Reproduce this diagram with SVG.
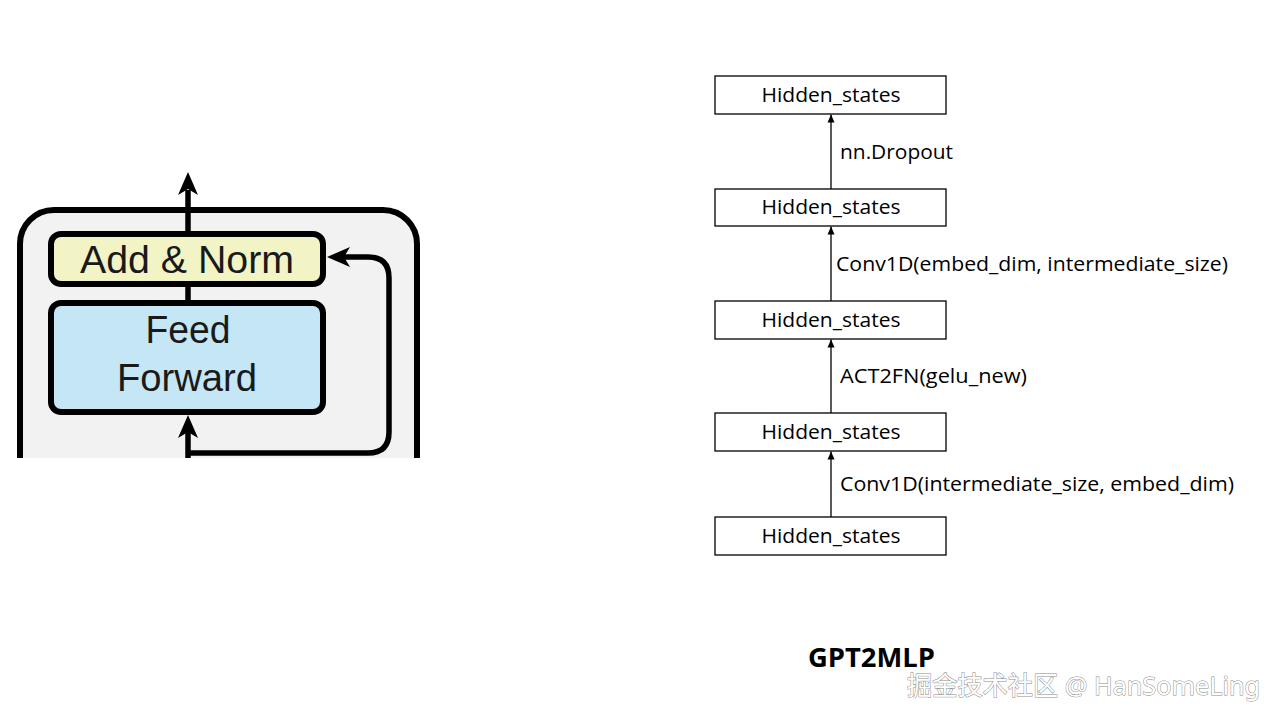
<svg xmlns="http://www.w3.org/2000/svg" width="1280" height="720" viewBox="0 0 1280 720">
<defs>
<style>
.box{fill:#ffffff;stroke:#000;stroke-width:1.3}
.bt{font-family:"Open Sans","Noto Sans",sans-serif;font-size:20.5px;fill:#000;text-anchor:middle}
.lbl{font-family:"Open Sans","Noto Sans",sans-serif;font-size:20.5px;fill:#000}
.conn{stroke:#000;stroke-width:1.3;fill:none;marker-end:url(#ah)}
.tf{font-family:"Liberation Sans",Arial,sans-serif;font-size:38px;fill:#1a1a1a;text-anchor:middle}
.thick{stroke:#000;stroke-width:5.5;fill:none}
.bigarrow{fill:#000}
</style>
<marker id="ah" markerUnits="userSpaceOnUse" markerWidth="10" markerHeight="10" refX="8" refY="4" orient="auto">
<path d="M0,0.5 L8,4 L0,7.5 Z" fill="#000"/>
</marker>
<clipPath id="cut"><rect x="0" y="0" width="1280" height="458"/></clipPath>
</defs>
<rect width="1280" height="720" fill="#ffffff"/>

<g id="transformer-ff" clip-path="url(#cut)">
<rect x="20" y="210" width="397" height="320" rx="34" ry="34" fill="#f2f2f2" stroke="#000" stroke-width="6"/>
<line class="thick" x1="188" y1="190" x2="188" y2="234"/>
<line class="thick" x1="188" y1="284" x2="188" y2="303"/>
<path class="bigarrow" d="M188,172 L198,195 L188,189 L178,195 Z"/>
<line class="thick" x1="188" y1="458" x2="188" y2="430"/>
<path class="bigarrow" d="M188,415 L198,438 L188,432 L178,438 Z"/>
<path class="thick" d="M188,453 H368 Q389,453 389,432 V278 Q389,257 368,257 H342"/>
<path class="bigarrow" d="M327,257 L350,247 L344,257 L350,267 Z"/>
<g id="add-norm">
<rect x="51" y="234" width="272" height="50" rx="10" ry="10" fill="#f3f4c6" stroke="#000" stroke-width="6"/>
<text class="tf" x="187" y="273" textLength="214" lengthAdjust="spacingAndGlyphs">Add &amp; Norm</text>
</g>
<g id="feed-forward">
<rect x="51" y="303" width="272" height="109" rx="10" ry="10" fill="#c5e6f5" stroke="#000" stroke-width="6"/>
<text class="tf" x="188" y="343" textLength="85" lengthAdjust="spacingAndGlyphs">Feed</text>
<text class="tf" x="187" y="391" textLength="140" lengthAdjust="spacingAndGlyphs">Forward</text>
</g>
</g>

<g id="connectors">
<line class="conn" x1="831" y1="189" x2="831" y2="114.5"/>
<line class="conn" x1="831" y1="301" x2="831" y2="226.5"/>
<line class="conn" x1="831" y1="413" x2="831" y2="339.5"/>
<line class="conn" x1="831" y1="517" x2="831" y2="451.5"/>
<text class="lbl" x="840" y="159" textLength="113" lengthAdjust="spacingAndGlyphs">nn.Dropout</text>
<text class="lbl" x="836" y="271" textLength="392" lengthAdjust="spacingAndGlyphs">Conv1D(embed_dim, intermediate_size)</text>
<text class="lbl" x="840" y="383" textLength="187" lengthAdjust="spacingAndGlyphs">ACT2FN(gelu_new)</text>
<text class="lbl" x="840" y="491" textLength="394" lengthAdjust="spacingAndGlyphs">Conv1D(intermediate_size, embed_dim)</text>
</g>

<g id="hs1"><rect class="box" x="715" y="76" width="231" height="38"/><text class="bt" x="831" y="102" textLength="139" lengthAdjust="spacingAndGlyphs">Hidden_states</text></g>
<g id="hs2"><rect class="box" x="715" y="189" width="231" height="37"/><text class="bt" x="831" y="214" textLength="139" lengthAdjust="spacingAndGlyphs">Hidden_states</text></g>
<g id="hs3"><rect class="box" x="715" y="301" width="231" height="38"/><text class="bt" x="831" y="327" textLength="139" lengthAdjust="spacingAndGlyphs">Hidden_states</text></g>
<g id="hs4"><rect class="box" x="715" y="413" width="231" height="38"/><text class="bt" x="831" y="439" textLength="139" lengthAdjust="spacingAndGlyphs">Hidden_states</text></g>
<g id="hs5"><rect class="box" x="715" y="517" width="231" height="38"/><text class="bt" x="831" y="543" textLength="139" lengthAdjust="spacingAndGlyphs">Hidden_states</text></g>

<g id="title">
<text x="808" y="667" font-family="'Open Sans','Noto Sans',sans-serif" font-weight="bold" font-size="26" fill="#000" textLength="127" lengthAdjust="spacingAndGlyphs">GPT2MLP</text>
</g>
<g id="watermark">
<text x="907" y="695" font-family="'Noto Sans','Noto Sans CJK SC',sans-serif" font-size="26" fill="#ffffff" stroke="#8a8a8a" stroke-width="1" paint-order="stroke" textLength="353" lengthAdjust="spacingAndGlyphs">掘金技术社区 @ HanSomeLing</text>
</g>
</svg>
